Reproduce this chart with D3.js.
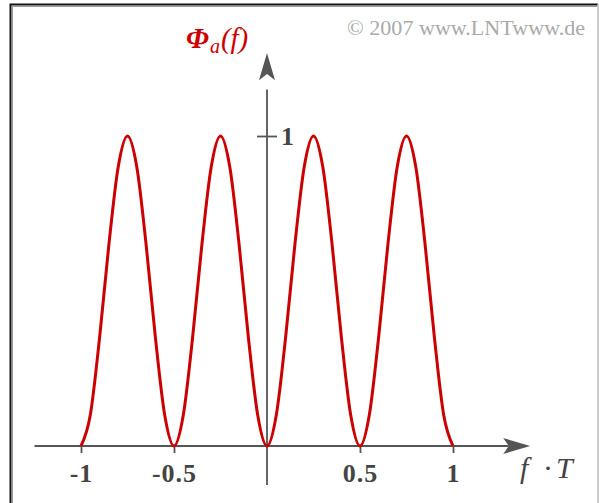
<!DOCTYPE html>
<html>
<head>
<meta charset="utf-8">
<script src="https://cdn.jsdelivr.net/npm/d3@7"></script>
<style>
  body { margin: 0; background: #fff; }
  svg { display: block; }
</style>
</head>
<body>
<div id="chart"></div>
<script>
// f*T sample points and the spectrum values
const fT = [-1, -0.95, -0.9, -0.85, -0.8, -0.75, -0.7, -0.65, -0.6, -0.55,
    -0.5, -0.45, -0.4, -0.35, -0.3, -0.25, -0.2, -0.15, -0.1, -0.05,
    0, 0.05, 0.1, 0.15, 0.2, 0.25, 0.3, 0.35, 0.4, 0.45,
    0.5, 0.55, 0.6, 0.65, 0.7, 0.75, 0.8, 0.85, 0.9, 0.95, 1];
const phi = [0, 0.1, 0.35, 0.65, 0.9, 1, 0.9, 0.65, 0.35, 0.1,
    0, 0.1, 0.35, 0.65, 0.9, 1, 0.9, 0.65, 0.35, 0.1,
    0, 0.1, 0.35, 0.65, 0.9, 1, 0.9, 0.65, 0.35, 0.1,
    0, 0.1, 0.35, 0.65, 0.9, 1, 0.9, 0.65, 0.35, 0.1, 0];

// axis ticks and labels
const xTicks = [-1, -0.5, 0.5, 1];
const xTickLabels = ["-1", "-0.5", "0.5", "1"];
const yTicks = [1];
const yTickLabels = ["1"];

const width = 599;
const height = 503;
const axisColor = "#555";
const curveColor = "#cc0000";
const serif = "'Liberation Serif', 'Times New Roman', serif";

const svg = d3.select("#chart").append("svg")
    .attr("width", width)
    .attr("height", height);

svg.append("rect")
    .attr("width", width)
    .attr("height", height)
    .attr("fill", "#fff");

// frame: dark top/left, light right side
svg.append("path")
    .attr("d", "M10.5,503V4.5H598")
    .attr("fill", "none")
    .attr("stroke", "#111")
    .attr("stroke-width", 2);
svg.append("path")
    .attr("d", "M12.5,503V6.5H597")
    .attr("fill", "none")
    .attr("stroke", "#999")
    .attr("stroke-width", 1);
svg.append("line")
    .attr("x1", 598).attr("x2", 598)
    .attr("y1", 4).attr("y2", 503)
    .attr("stroke", "#bbb")
    .attr("stroke-width", 1.5);

//scales
const x = d3.scaleLinear([-1, 1], [81, 453]);
const y = d3.scaleLinear([0, 1], [446, 136]);

//x axis line with arrow
svg.append("line")
    .attr("x1", x(-1.25)).attr("x2", x(1.3))
    .attr("y1", y(0)).attr("y2", y(0))
    .attr("stroke", axisColor)
    .attr("stroke-width", 1.8);
svg.append("path")
    .attr("d", `M${x(1.415)},${y(0)}L${x(1.27)},${y(0) - 8}L${x(1.3)},${y(0)}L${x(1.27)},${y(0) + 8}Z`)
    .attr("fill", axisColor);

//y axis line with arrow
svg.append("line")
    .attr("x1", x(0)).attr("x2", x(0))
    .attr("y1", y(-0.126)).attr("y2", y(1.15))
    .attr("stroke", axisColor)
    .attr("stroke-width", 1.8);
svg.append("path")
    .attr("d", `M${x(0)},${y(1.268)}L${x(0) - 8},${y(1.18)}L${x(0)},${y(1.2)}L${x(0) + 8},${y(1.18)}Z`)
    .attr("fill", axisColor);

//x ticks and labels
const xAxis = svg.append("g")
    .attr("transform", `translate(0,${y(0)})`)
    .call(d3.axisBottom(x)
        .tickValues(xTicks)
        .tickSize(7)
        .tickPadding(11)
        .tickFormat((d, i) => xTickLabels[i]));
xAxis.select(".domain").remove();
xAxis.selectAll("line")
    .attr("stroke", axisColor)
    .attr("stroke-width", 1.8);
xAxis.selectAll("text")
    .attr("fill", "#444")
    .attr("font-family", serif)
    .attr("font-weight", "bold")
    .attr("font-size", 26)
    .attr("letter-spacing", 1);

//y tick and label
const yAxis = svg.append("g")
    .attr("transform", `translate(${x(0) + 10},0)`)
    .call(d3.axisLeft(y)
        .tickValues(yTicks)
        .tickSize(20)
        .tickFormat(() => ""));
yAxis.select(".domain").remove();
yAxis.selectAll("line")
    .attr("stroke", axisColor)
    .attr("stroke-width", 1.8);
svg.selectAll(".ylab")
    .data(yTicks)
    .join("text")
    .attr("class", "ylab")
    .attr("x", x(0) + 14)
    .attr("y", d => y(d))
    .attr("dy", "0.35em")
    .attr("fill", "#444")
    .attr("font-family", serif)
    .attr("font-weight", "bold")
    .attr("font-size", 26)
    .text((d, i) => yTickLabels[i]);

//the spectrum curve
const line = d3.line()
    .x((d, i) => x(fT[i]))
    .y(d => y(d))
    .curve(d3.curveMonotoneX);

svg.append("path")
    .datum(phi)
    .attr("d", line)
    .attr("fill", "none")
    .attr("stroke", curveColor)
    .attr("stroke-width", 3)
    .attr("stroke-linejoin", "round");

//axis titles
const title = svg.append("text")
    .attr("x", 186)
    .attr("y", 48)
    .attr("fill", curveColor)
    .attr("font-family", serif)
    .attr("font-style", "italic")
    .attr("font-size", 29);
title.append("tspan").attr("font-weight", "bold").text("Φ");
title.append("tspan").attr("font-size", 20).attr("dy", 5).attr("dx", 1).text("a");
title.append("tspan").attr("dy", -5).attr("dx", 1).text("(f)");

const xTitle = svg.append("text")
    .attr("y", 478)
    .attr("fill", "#444")
    .attr("font-family", serif)
    .attr("font-style", "italic")
    .attr("font-size", 30);
xTitle.append("tspan").attr("x", 520).text("f");
xTitle.append("tspan").attr("x", 543).attr("font-style", "normal").text("·");
xTitle.append("tspan").attr("x", 556).text("T");

//copyright note
svg.append("text")
    .attr("x", 347)
    .attr("y", 35)
    .attr("fill", "#aaa")
    .attr("font-family", serif)
    .attr("font-size", 20)
    .attr("textLength", 238)
    .attr("lengthAdjust", "spacingAndGlyphs")
    .text("© 2007 www.LNTwww.de");
</script>
</body>
</html>
